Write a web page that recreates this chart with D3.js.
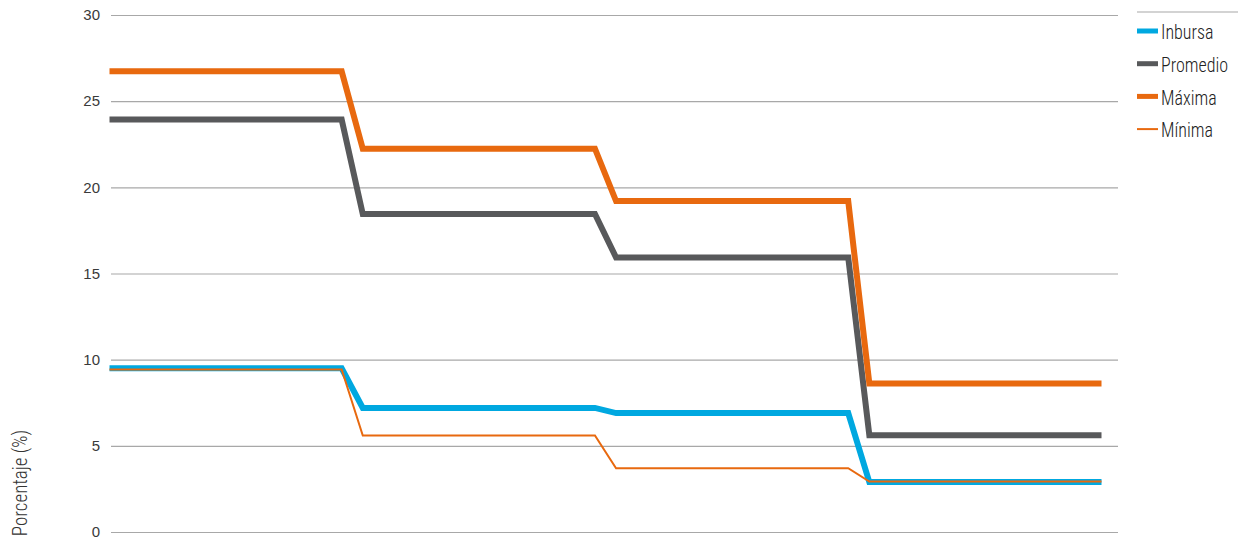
<!DOCTYPE html>
<html>
<head>
<meta charset="utf-8">
<script src="https://cdn.jsdelivr.net/npm/d3@7"></script>
<style>
  html, body { margin: 0; padding: 0; background: #fff; }
  svg { display: block; }
  .cond { font-family: "Roboto Condensed", "Roboto", sans-serif; font-weight: 300; }
</style>
</head>
<body>
<svg id="chart" width="1238" height="540"></svg>
<script>
// ---- data (48 monthly observations, 4 years) ----
const periods = d3.range(1, 49).map(String);
const yTicks = [0, 5, 10, 15, 20, 25, 30];
const seriesNames = ["Inbursa", "Promedio", "Máxima", "Mínima"];

const inbursa = [
  9.5, 9.5, 9.5, 9.5, 9.5, 9.5, 9.5, 9.5, 9.5, 9.5, 9.5, 9.5,
  7.2, 7.2, 7.2, 7.2, 7.2, 7.2, 7.2, 7.2, 7.2, 7.2, 7.2, 7.2,
  6.9, 6.9, 6.9, 6.9, 6.9, 6.9, 6.9, 6.9, 6.9, 6.9, 6.9, 6.9,
  2.9, 2.9, 2.9, 2.9, 2.9, 2.9, 2.9, 2.9, 2.9, 2.9, 2.9, 2.9
];
const promedio = [
  23.93, 23.93, 23.93, 23.93, 23.93, 23.93, 23.93, 23.93, 23.93, 23.93, 23.93, 23.93,
  18.45, 18.45, 18.45, 18.45, 18.45, 18.45, 18.45, 18.45, 18.45, 18.45, 18.45, 18.45,
  15.93, 15.93, 15.93, 15.93, 15.93, 15.93, 15.93, 15.93, 15.93, 15.93, 15.93, 15.93,
  5.62, 5.62, 5.62, 5.62, 5.62, 5.62, 5.62, 5.62, 5.62, 5.62, 5.62, 5.62
];
const maxima = [
  26.73, 26.73, 26.73, 26.73, 26.73, 26.73, 26.73, 26.73, 26.73, 26.73, 26.73, 26.73,
  22.24, 22.24, 22.24, 22.24, 22.24, 22.24, 22.24, 22.24, 22.24, 22.24, 22.24, 22.24,
  19.2, 19.2, 19.2, 19.2, 19.2, 19.2, 19.2, 19.2, 19.2, 19.2, 19.2, 19.2,
  8.62, 8.62, 8.62, 8.62, 8.62, 8.62, 8.62, 8.62, 8.62, 8.62, 8.62, 8.62
];
const minima = [
  9.43, 9.43, 9.43, 9.43, 9.43, 9.43, 9.43, 9.43, 9.43, 9.43, 9.43, 9.43,
  5.6, 5.6, 5.6, 5.6, 5.6, 5.6, 5.6, 5.6, 5.6, 5.6, 5.6, 5.6,
  3.7, 3.7, 3.7, 3.7, 3.7, 3.7, 3.7, 3.7, 3.7, 3.7, 3.7, 3.7,
  2.93, 2.93, 2.93, 2.93, 2.93, 2.93, 2.93, 2.93, 2.93, 2.93, 2.93, 2.93
];

// ---- styling ----
const series = [
  { name: seriesNames[0], values: inbursa,  color: "#00A8E0", width: 6 },
  { name: seriesNames[1], values: promedio, color: "#58595B", width: 6 },
  { name: seriesNames[2], values: maxima,   color: "#E8690F", width: 6 },
  { name: seriesNames[3], values: minima,   color: "#E8690F", width: 2 }
];

const svg = d3.select("#chart");

const x = d3.scalePoint().domain(periods).range([109.5, 1101.5]);
const y = d3.scaleLinear().domain([0, 30]).range([532, 15]);

// grid lines
const yAxis = d3.axisLeft(y).tickValues(yTicks).tickSize(-(1118 - 111)).tickPadding(11);
const gAxis = svg.append("g").attr("transform", "translate(111,0)").call(yAxis);
gAxis.select(".domain").remove();
gAxis.selectAll(".tick line").attr("stroke", "#a8a8a8").attr("stroke-width", 1.2);
gAxis.selectAll(".tick text")
  .attr("fill", "#3a3a3a")
  .style("font-family", "'Liberation Sans', Arial, sans-serif")
  .style("font-size", "15px");

// legend top rule
svg.append("line")
  .attr("x1", 1137).attr("x2", 1238).attr("y1", 12).attr("y2", 12)
  .attr("stroke", "#a8a8a8").attr("stroke-width", 1.2);

// axis title
svg.append("text")
  .attr("class", "cond")
  .attr("transform", "translate(27,483) rotate(-90) scale(0.95,1)")
  .attr("text-anchor", "middle")
  .attr("fill", "#333")
  .style("font-size", "20px")
  .text("Porcentaje (%)");

// lines
const line = d3.line()
  .x((d, i) => x(periods[i]))
  .y(d => y(d));

svg.append("g").selectAll("path")
  .data(series)
  .join("path")
  .attr("d", d => line(d.values))
  .attr("fill", "none")
  .attr("stroke", d => d.color)
  .attr("stroke-width", d => d.width)
  .attr("stroke-linejoin", "miter")
  .attr("stroke-linecap", "butt");

// legend
const legend = svg.append("g").attr("transform", "translate(1137,31)");
const items = legend.selectAll("g")
  .data(series)
  .join("g")
  .attr("transform", (d, i) => `translate(0,${i * 32.7})`);
items.append("line")
  .attr("x1", 0).attr("x2", 21).attr("y1", 0).attr("y2", 0)
  .attr("stroke", d => d.color)
  .attr("stroke-width", d => d.width === 6 ? 5 : 2);
items.append("text")
  .attr("class", "cond")
  .attr("transform", "translate(24,8.3) scale(0.9,1)")
  .attr("fill", "#222")
  .style("font-size", "20px")
  .text(d => d.name);
</script>
</body>
</html>
